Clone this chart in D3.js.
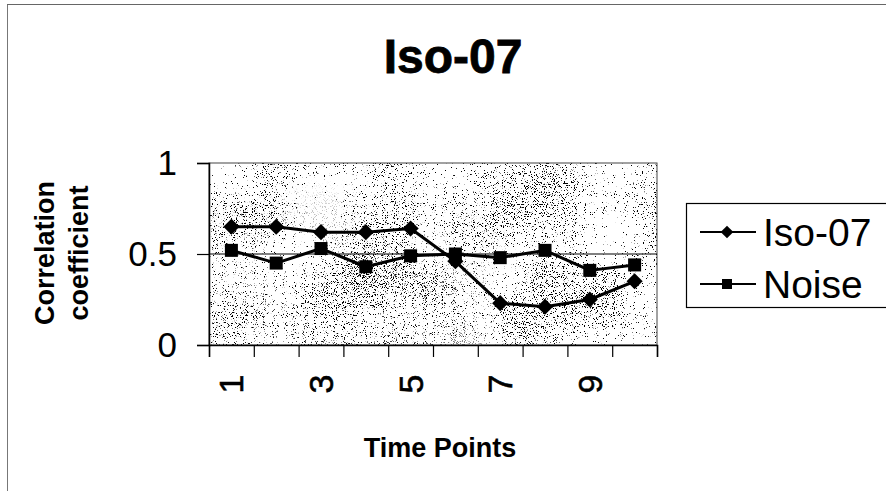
<!DOCTYPE html>
<html>
<head>
<meta charset="utf-8">
<script src="https://cdn.jsdelivr.net/npm/d3@7"></script>
<style>
  html, body { margin: 0; padding: 0; background: #fff; }
  svg { display: block; font-family: "Liberation Sans", Arial, sans-serif; }
</style>
</head>
<body>
<svg id="chart" width="886" height="491"></svg>
<script>
// ---- data ----
const timePoints = [1, 2, 3, 4, 5, 6, 7, 8, 9, 10];
const isoValues   = [0.65, 0.65, 0.62, 0.62, 0.64, 0.46, 0.23, 0.21, 0.25, 0.35];
const noiseValues = [0.52, 0.45, 0.53, 0.43, 0.49, 0.50, 0.48, 0.52, 0.41, 0.44];
const xTickLabels = [1, 3, 5, 7, 9];
const yTickValues = [0, 0.5, 1];
const seriesNames = ["Iso-07", "Noise"];
const chartTitle = "Iso-07";
const xTitle = "Time Points";
const yTitleLines = ["Correlation", "coefficient"];

// ---- layout ----
const svg = d3.select("#chart");
const plot = { left: 209, right: 657, top: 163, bottom: 345 };
const pw = plot.right - plot.left, ph = plot.bottom - plot.top;

const x = d3.scaleLinear().domain([0.5, 10.5]).range([plot.left, plot.right]);
const y = d3.scaleLinear().domain([0, 1]).range([plot.bottom, plot.top]);

// speckle texture filters for the plot background
const defs = svg.append("defs");
const opaque = "1 0 0 0 0  0 1 0 0 0  0 0 1 0 0  0 0 0 0 1";
function speckle(id, seed, cseed, offset) {
  const f = defs.append("filter").attr("id", id)
    .attr("x", 0).attr("y", 0).attr("width", 1).attr("height", 1)
    .attr("filterUnits", "objectBoundingBox")
    .attr("color-interpolation-filters", "sRGB");
  f.append("feTurbulence").attr("type", "fractalNoise")
    .attr("baseFrequency", 0.9).attr("numOctaves", 2).attr("seed", seed).attr("result", "f1");
  f.append("feColorMatrix").attr("in", "f1").attr("type", "matrix").attr("values", opaque).attr("result", "f1o");
  f.append("feTurbulence").attr("type", "fractalNoise")
    .attr("baseFrequency", 0.012).attr("numOctaves", 2).attr("seed", cseed).attr("result", "c1");
  f.append("feColorMatrix").attr("in", "c1").attr("type", "matrix").attr("values", opaque).attr("result", "c1o");
  f.append("feComposite").attr("in", "f1o").attr("in2", "c1o").attr("operator", "arithmetic")
    .attr("k1", 0).attr("k2", 0.75).attr("k3", 0.25).attr("k4", 0).attr("result", "mix");
  f.append("feColorMatrix").attr("in", "mix").attr("type", "matrix")
    .attr("values", `0 0 0 0 0  0 0 0 0 0  0 0 0 0 0  25 0 0 0 ${offset}`);
}
speckle("speckle", 7, 3, -15.5);
speckle("speckle2", 21, 5, -15.9);
const rg = defs.append("radialGradient").attr("id", "darkZone")
  .attr("gradientUnits", "userSpaceOnUse")
  .attr("cx", 340).attr("cy", 320).attr("r", 190)
  .attr("gradientTransform", "translate(340,320) scale(1.3,0.75) translate(-340,-320)");
rg.append("stop").attr("offset", 0).attr("stop-color", "#fff").attr("stop-opacity", 1);
rg.append("stop").attr("offset", 1).attr("stop-color", "#fff").attr("stop-opacity", 0);
defs.append("mask").attr("id", "darkMask")
  .append("rect").attr("x", plot.left).attr("y", plot.top).attr("width", pw).attr("height", ph)
  .attr("fill", "url(#darkZone)");

// outer chart frame (partial, as in reference)
svg.append("line").attr("x1", 7.5).attr("x2", 7.5).attr("y1", 4).attr("y2", 491)
  .attr("stroke", "#777").attr("stroke-width", 1);
svg.append("line").attr("x1", 7).attr("x2", 886).attr("y1", 4.5).attr("y2", 4.5)
  .attr("stroke", "#666").attr("stroke-width", 1.2);

// plot background
svg.append("rect").attr("x", plot.left).attr("y", plot.top)
  .attr("width", pw).attr("height", ph).attr("fill", "#fff");
svg.append("rect").attr("x", plot.left).attr("y", plot.top)
  .attr("width", pw).attr("height", ph)
  .attr("fill", "#000").attr("filter", "url(#speckle)");
svg.append("g").attr("mask", "url(#darkMask)")
  .append("rect").attr("x", plot.left).attr("y", plot.top)
  .attr("width", pw).attr("height", ph)
  .attr("fill", "#000").attr("filter", "url(#speckle2)");
svg.append("rect").attr("x", plot.left).attr("y", plot.top)
  .attr("width", pw).attr("height", ph)
  .attr("fill", "none").attr("stroke", "#444").attr("stroke-width", 1);

// gridline at 0.5
svg.append("g").selectAll("line").data([0.5]).join("line")
  .attr("x1", plot.left).attr("x2", plot.right)
  .attr("y1", d => y(d)).attr("y2", d => y(d))
  .attr("stroke", "#000").attr("stroke-width", 1.2);

// y axis
const yAxis = svg.append("g").attr("transform", `translate(${plot.left},0)`)
  .call(d3.axisLeft(y).tickValues(yTickValues).tickSize(12).tickPadding(20)
    .tickFormat(d => d === 0 ? "0" : d === 1 ? "1" : "0.5"));
yAxis.select(".domain").attr("stroke", "#000").attr("stroke-width", 1.5);
yAxis.selectAll(".tick line").attr("stroke", "#000").attr("stroke-width", 1.2);
yAxis.selectAll(".tick text").attr("font-size", 35).attr("fill", "#000")
  .attr("font-family", "'Liberation Sans', Arial, sans-serif");

// x axis: ticks at category boundaries
const xEdges = d3.range(0.5, 11, 1);
const xAxis = svg.append("g").attr("transform", `translate(0,${plot.bottom})`)
  .call(d3.axisBottom(x).tickValues(xEdges).tickSize(12).tickFormat(""));
xAxis.select(".domain").attr("stroke", "#000").attr("stroke-width", 1.5);
xAxis.selectAll(".tick line").attr("stroke", "#000").attr("stroke-width", 1.2);

// x tick labels rotated
svg.append("g").selectAll("text").data(xTickLabels).join("text")
  .attr("transform", d => `translate(${x(d)},384) rotate(-90)`)
  .attr("text-anchor", "middle").attr("dominant-baseline", "central")
  .attr("font-size", 34).attr("fill", "#000")
  .attr("stroke", "#000").attr("stroke-width", 0.6)
  .text(d => d);

// lines & markers
const line = d3.line().x((d, i) => x(timePoints[i])).y(d => y(d));
const series = [isoValues, noiseValues];
svg.append("g").selectAll("path").data(series).join("path")
  .attr("d", d => line(d)).attr("fill", "none")
  .attr("stroke", "#000").attr("stroke-width", 3).attr("stroke-linejoin", "round");

svg.append("g").selectAll("path").data(isoValues).join("path")
  .attr("d", d3.symbol().type(d3.symbolSquare).size(130)())
  .attr("transform", (d, i) => `translate(${x(timePoints[i])},${y(d)}) rotate(45)`)
  .attr("fill", "#000");
svg.append("g").selectAll("rect").data(noiseValues).join("rect")
  .attr("x", (d, i) => x(timePoints[i]) - 6.5).attr("y", d => y(d) - 6.5)
  .attr("width", 13).attr("height", 13).attr("fill", "#000");

// titles
svg.append("text").attr("x", 453).attr("y", 73).attr("text-anchor", "middle")
  .attr("font-size", 48).attr("font-weight", "bold")
  .attr("stroke", "#000").attr("stroke-width", 0.8).text(chartTitle);
svg.append("text").attr("x", 440).attr("y", 457).attr("text-anchor", "middle")
  .attr("font-size", 27).attr("font-weight", "bold").text(xTitle);
svg.append("g").selectAll("text").data(yTitleLines).join("text")
  .attr("transform", (d, i) => `translate(${54 + i * 34},253) rotate(-90)`)
  .attr("text-anchor", "middle").attr("font-size", 27).attr("font-weight", "bold")
  .text(d => d);

// legend
const legend = svg.append("g");
legend.append("rect").attr("x", 686.5).attr("y", 203.5).attr("width", 210).attr("height", 104)
  .attr("fill", "#fff").attr("stroke", "#000").attr("stroke-width", 1.2);
const rows = legend.selectAll("g").data(seriesNames).join("g")
  .attr("transform", (d, i) => `translate(0,${232 + i * 52})`);
rows.append("line").attr("x1", 700).attr("x2", 756).attr("y1", 0).attr("y2", 0)
  .attr("stroke", "#000").attr("stroke-width", 2);
rows.filter((d, i) => i === 0).append("path")
  .attr("d", d3.symbol().type(d3.symbolSquare).size(80)())
  .attr("transform", "translate(727,0) rotate(45)").attr("fill", "#000");
rows.filter((d, i) => i === 1).append("rect")
  .attr("x", 722).attr("y", -5).attr("width", 10).attr("height", 10).attr("fill", "#000");
rows.append("text").attr("x", 763).attr("y", 0).attr("dominant-baseline", "central")
  .attr("font-size", 39).attr("fill", "#000").text(d => d);
</script>
</body>
</html>
